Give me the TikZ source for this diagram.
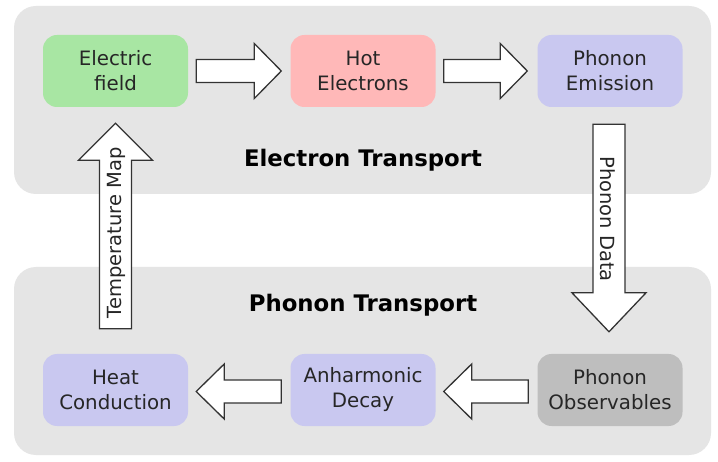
\documentclass[tikz,border=0pt]{standalone}
\usepackage{fontspec}
\setmainfont{DejaVu Sans}
\usetikzlibrary{calc}
\definecolor{clusterbg}{HTML}{E5E5E5}
\definecolor{cgreen}{HTML}{A8E6A3}
\definecolor{cpink}{HTML}{FFB8B8}
\definecolor{clav}{HTML}{C9C8F0}
\definecolor{cgray}{HTML}{BEBEBE}
\definecolor{ctext}{HTML}{262626}
\definecolor{cline}{HTML}{333333}
\newcommand\blockarrow[6]{% start, tip, shaft half, head half, head length, name
  \coordinate (#6h) at ($(#2)!#5pt!(#1)$);
  \draw[blockarrowstyle] ($(#1)!#3pt!90:(#2)$) -- ($(#6h)!#3pt!90:(#2)$) -- ($(#6h)!#4pt!90:(#2)$) -- (#2)
    -- ($(#6h)!#4pt!-90:(#2)$) -- ($(#6h)!#3pt!-90:(#2)$) -- ($(#1)!#3pt!-90:(#2)$) -- cycle;
}
\begin{document}
\begin{tikzpicture}[x=1pt,y=-1pt,
  cluster/.style={fill=clusterbg,draw=none,rounded corners=22pt},
  proc/.style={draw=none,rounded corners=14pt,minimum width=145pt,minimum height=72pt,align=center,
    text=ctext,font=\fontsize{19.8}{25}\selectfont,inner sep=0pt},
  title/.style={font=\fontsize{22.8}{27}\selectfont\bfseries,text=black},
  blockarrowstyle/.style={draw=cline,fill=white,line width=1.3pt,line join=miter},
  arrowlabel/.style={font=\fontsize{19.5}{24}\selectfont,text=ctext,inner sep=0pt}]
\useasboundingbox (0,0) rectangle (718,462);
\fill[white] (0,0) rectangle (718,462);
% clusters
\path[cluster] (14,6) rectangle (711,194);
\path[cluster] (14,267) rectangle (711,455);
\node[title] (t1) at (363,160) {Electron Transport};
\node[title] (t2) at (363,305) {Phonon Transport};
% nodes
\node[proc,fill=cgreen] (ef) at (115.5,71) {Electric\\field};
\node[proc,fill=cpink] (he) at (363,71) {Hot\\Electrons};
\node[proc,fill=clav] (pe) at (610,71) {Phonon\\Emission};
\node[proc,fill=clav] (hc) at (115.5,390) {Heat\\Conduction};
\node[proc,fill=clav] (ad) at (363,390) {Anharmonic\\Decay};
\node[proc,fill=cgray] (po) at (610,390) {Phonon\\Observables};
% connector endpoints
\coordinate (a1s) at ($(ef.east)+(8,0)$);
\coordinate (a1e) at ($(he.west)+(-9,0)$);
\coordinate (a2s) at ($(he.east)+(8,0)$);
\coordinate (a2e) at ($(pe.west)+(-10,0)$);
\coordinate (a3s) at ($(pe.south)+(-1,17)$);
\coordinate (a3e) at ($(po.north)+(-1,-22)$);
\coordinate (a4s) at ($(hc.north)+(0,-25)$);
\coordinate (a4e) at ($(ef.south)+(0,16)$);
\coordinate (a5s) at ($(po.west)+(-9,1.5)$);
\coordinate (a5e) at ($(ad.east)+(8,1.5)$);
\coordinate (a6s) at ($(ad.west)+(-9,1.5)$);
\coordinate (a6e) at ($(hc.east)+(8,1.5)$);
\blockarrow{a1s}{a1e}{11.5}{27.5}{27}{a1}
\blockarrow{a2s}{a2e}{11.5}{27.5}{27}{a2}
\blockarrow{a3s}{a3e}{16}{37}{39}{a3}
\blockarrow{a4s}{a4e}{16}{37}{37}{a4}
\blockarrow{a5s}{a5e}{11.5}{27.5}{28}{a5}
\blockarrow{a6s}{a6e}{11.5}{27.5}{28}{a6}
\node[arrowlabel,rotate=-90] (l1) at (608,219) {Phonon Data};
\node[arrowlabel,rotate=90] (l2) at (116,233) {Temperature Map};
\end{tikzpicture}
\end{document}
